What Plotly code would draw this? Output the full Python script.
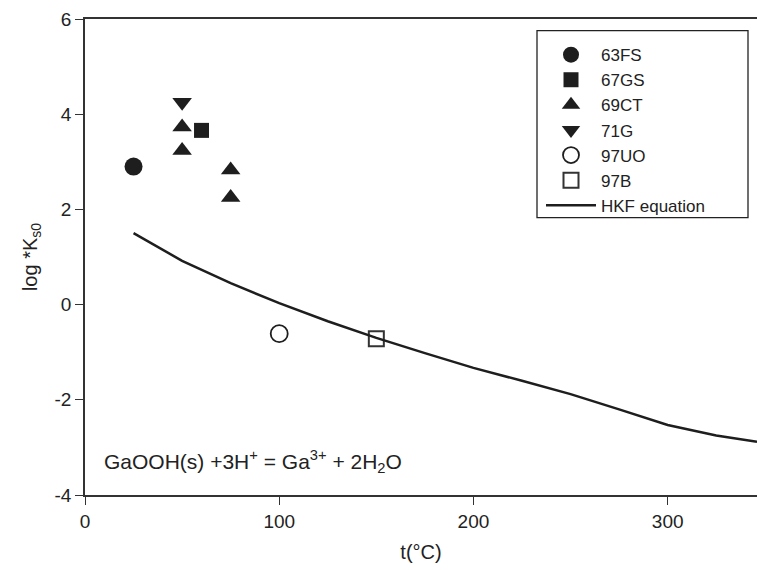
import plotly.graph_objects as go

# ---- data ----
fs63_t = [25]
fs63_k = [2.90]
gs67_t = [60]
gs67_k = [3.66]
ct69_t = [50, 50, 75, 75]
ct69_k = [3.73, 3.24, 2.83, 2.25]
g71_t = [50]
g71_k = [4.25]
uo97_t = [100]
uo97_k = [-0.61]
b97_t = [150]
b97_k = [-0.72]
hkf_t = [25, 50, 75, 100, 125, 150, 175, 200, 225, 250, 275, 300, 325, 346]
hkf_k = [1.50, 0.92, 0.45, 0.03, -0.35, -0.70, -1.02, -1.33, -1.60, -1.88, -2.20, -2.53, -2.75, -2.88]

x_ticks = [0, 100, 200, 300]
y_ticks = [-4, -2, 0, 2, 4, 6]
y_tick_labels = ["-4", "-2", "0", "2", "4", "6"]

FONT = "Liberation Sans, Arial, sans-serif"
INK = "#1e1e1e"

fig = go.Figure()
fig.add_trace(go.Scatter(x=fs63_t, y=fs63_k, mode="markers", name="63FS",
                         marker=dict(symbol="circle", size=18, color=INK)))
fig.add_trace(go.Scatter(x=gs67_t, y=gs67_k, mode="markers", name="67GS",
                         marker=dict(symbol="square", size=15, color=INK)))
fig.add_trace(go.Scatter(x=ct69_t, y=ct69_k, mode="markers", name="69CT",
                         marker=dict(symbol="triangle-up", size=17, color=INK)))
fig.add_trace(go.Scatter(x=g71_t, y=g71_k, mode="markers", name="71G",
                         marker=dict(symbol="triangle-down", size=17, color=INK)))
fig.add_trace(go.Scatter(x=uo97_t, y=uo97_k, mode="markers", name="97UO",
                         marker=dict(symbol="circle-open", size=17, color=INK,
                                     line=dict(width=1.8, color=INK))))
fig.add_trace(go.Scatter(x=b97_t, y=b97_k, mode="markers", name="97B",
                         marker=dict(symbol="square-open", size=15, color="#333333",
                                     line=dict(width=2, color="#333333"))))
fig.add_trace(go.Scatter(x=hkf_t, y=hkf_k, mode="lines", name="HKF equation",
                         line=dict(color=INK, width=2.5)))

axis_common = dict(
    showline=True, linecolor="#333333", linewidth=1.5,
    ticks="outside", ticklen=8, tickwidth=1.3, tickcolor="#333333",
    showgrid=False, zeroline=False,
    tickfont=dict(family=FONT, size=19, color="#222222"),
)

fig.update_layout(
    width=757, height=570,
    margin=dict(l=85, r=0, t=19, b=75),
    paper_bgcolor="white", plot_bgcolor="white",
    font=dict(family=FONT, size=20, color="#222222"),
    showlegend=True,
    legend=dict(x=(541 - 85) / 672, y=0.962, xanchor="left", yanchor="top",
                bgcolor="rgba(0,0,0,0)", borderwidth=0,
                font=dict(family=FONT, size=17, color="#222222"),
                tracegroupgap=0, itemwidth=50),
    xaxis=dict(range=[0, 346], tickvals=x_ticks, mirror=True,
               title=dict(text="t(°C)", standoff=14,
                          font=dict(family=FONT, size=20, color="#222222")),
               **axis_common),
    yaxis=dict(range=[-4, 6], tickvals=y_ticks, ticktext=y_tick_labels,
               title=dict(text="log *K<sub>s0</sub>", standoff=12,
                          font=dict(family=FONT, size=20, color="#222222")),
               **axis_common),
    shapes=[dict(type="rect", xref="paper", yref="paper",
                 x0=(537 - 85) / 672, x1=(748 - 85) / 672,
                 y0=(495.3 - 218) / 476, y1=(495.3 - 31) / 476,
                 line=dict(color="#222222", width=1.3), fillcolor="rgba(0,0,0,0)")],
    annotations=[dict(x=9, y=-3.3, xref="x", yref="y", xanchor="left", yanchor="middle",
                      showarrow=False,
                      text="GaOOH(s) +3H<sup>+</sup> = Ga<sup>3+</sup> + 2H<sub>2</sub>O",
                      font=dict(family=FONT, size=21, color="#222222"))],
)

fig.write_html("out.html")
